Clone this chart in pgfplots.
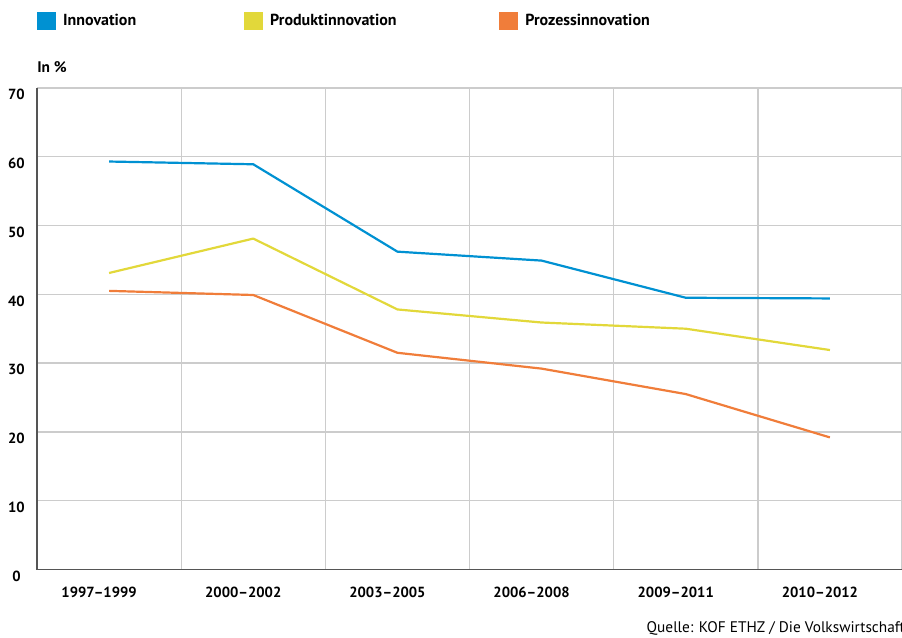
\documentclass[border=0pt]{standalone}
\usepackage{pgfplots}
\pgfplotsset{compat=1.18}
\usepackage{fontspec}
\setmainfont{PT Sans}

\definecolor{innoblue}{RGB}{0,145,210}
\definecolor{produktyellow}{RGB}{226,216,58}
\definecolor{prozessorange}{RGB}{240,125,58}
\definecolor{axisgray}{RGB}{85,85,85}
\definecolor{gridgray}{RGB}{204,204,204}

\begin{document}
\begin{tikzpicture}
\begin{axis}[
  name=main,
  scale only axis,
  width=648.75pt, height=361.2pt,
  xmin=-0.5, xmax=5.5, ymin=0, ymax=70,
  axis x line=bottom, axis y line=left,
  axis line style={-, draw=axisgray, line width=1.2pt},
  xtick={0,1,2,3,4,5},
  xticklabels={1997–1999,2000–2002,2003–2005,2006–2008,2009–2011,2010–2012},
  minor xtick={0.5,1.5,2.5,3.5,4.5,5.5},
  xminorgrids=true,
  ytick={0,10,20,30,40,50,60,70},
  yticklabels={0,10,20,30,40,50,60,70},
  ymajorgrids=true,
  grid style={gridgray, line width=1pt},
  minor grid style={gridgray, line width=1pt},
  major tick length=0pt, minor tick length=0pt,
  tick style={draw=none},
  xticklabel style={font=\bfseries\fontsize{11}{13}\selectfont, anchor=center,
    inner sep=0pt, yshift=-17.25pt, xshift=-7.5pt},
  yticklabel style={font=\bfseries\fontsize{11}{13}\selectfont, anchor=center,
    inner sep=0pt, xshift=-15.4pt, yshift=-5pt},
  legend columns=3,
  legend image code/.code={
    \fill[#1, draw=none] (0pt,-6.75pt) rectangle (14.25pt,6.75pt);
    \path (18.75pt,0pt);
  },
  legend style={at={(0,1)}, anchor=west, yshift=49.95pt,
    draw=none, fill=none, inner sep=0pt, outer sep=0pt,
    font=\bfseries\fontsize{12}{14}\selectfont,
    cells={anchor=west}, nodes={inner sep=0pt},
    /tikz/every even column/.style={column sep=0pt}},
  every axis plot/.append style={line width=1.65pt, line join=round},
]
\addplot[innoblue] coordinates {
  (0,59.3) (1,58.9) (2,46.2) (3,44.9) (4,39.5) (5,39.4)};
\addlegendentry{\makebox[135.75pt][l]{Innovation}}
\addplot[produktyellow] coordinates {
  (0,43.1) (1,48.1) (2,37.8) (3,35.9) (4,35.0) (5,31.9)};
\addlegendentry{\makebox[171.75pt][l]{Produktinnovation}}
\addplot[prozessorange] coordinates {
  (0,40.5) (1,39.9) (2,31.5) (3,29.2) (4,25.5) (5,19.2)};
\addlegendentry{Prozessinnovation}
\end{axis}

% unit label above the value axis and source line below the chart
\node[anchor=west, inner sep=0pt, font=\bfseries\fontsize{11.5}{13}\selectfont]
  at ([yshift=15.7pt]main.north west) {In \%};
\node[anchor=east, inner sep=0pt, font=\fontsize{11.5}{13}\selectfont]
  at ([xshift=2.25pt, yshift=-43.9pt]main.south east)
  {Quelle: KOF ETHZ / Die Volkswirtschaft};

\pgfresetboundingbox
\path[use as bounding box] (-27.75pt,-50.625pt) rectangle (648.75pt,427.125pt);
\end{tikzpicture}
\end{document}
